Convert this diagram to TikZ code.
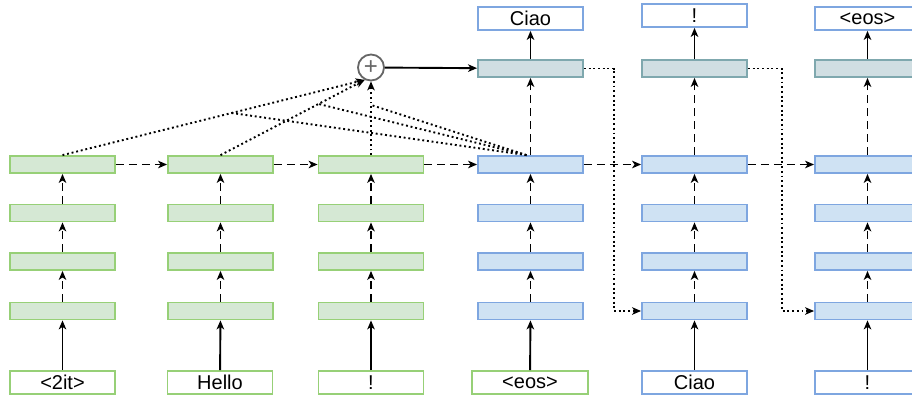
\documentclass[tikz,border=0pt]{standalone}
\usepackage{fontspec}
\setmainfont{Liberation Sans}
\usetikzlibrary{arrows.meta,calc}
\definecolor{gfill}{HTML}{D5E8D4}
\definecolor{gline}{HTML}{97D077}
\definecolor{bfill}{HTML}{CFE2F3}
\definecolor{bline}{HTML}{7EA6E0}
\definecolor{tfill}{HTML}{D0DEE2}
\definecolor{tline}{HTML}{7FA8AE}
\definecolor{pgray}{HTML}{666666}
\begin{document}
\begin{tikzpicture}[x=1pt,y=-1pt,
  box/.style={draw, line width=1.8pt, minimum width=105pt, minimum height=17pt, inner sep=0pt},
  genc/.style={box, fill=gfill, draw=gline},
  bdec/.style={box, fill=bfill, draw=bline},
  tdec/.style={box, fill=tfill, draw=tline},
  tok/.style={draw, line width=1.8pt, fill=white, minimum width=105pt, minimum height=23pt, inner sep=0pt, font=\fontsize{20}{24}\selectfont},
  gtok/.style={tok, draw=gline},
  btok/.style={tok, draw=bline},
  tip/.tip={Stealth[length=9pt,width=7.5pt,inset=2.5pt]},
  arr/.style={line width=1.9pt, -tip},
  dsh/.style={arr, dash pattern=on 8pt off 5pt},
  dotl/.style={line width=1.9pt, dash pattern=on 1.9pt off 2.8pt},
  dota/.style={dotl, -tip},
]
\clip (0,0) rectangle (912,396);
\fill[white] (0,0) rectangle (912,396);

% encoder columns
\foreach \n/\x in {1/62.5, 2/220.5, 3/371} {
  \node[genc] (e\n1) at (\x,164.5) {};
  \node[genc] (e\n2) at (\x,213) {};
  \node[genc] (e\n3) at (\x,261.5) {};
  \node[genc] (e\n4) at (\x,311) {};
}
% decoder columns
\foreach \n/\x in {4/530.5, 5/694.5, 6/867.5} {
  \node[bdec] (e\n1) at (\x,164.5) {};
  \node[bdec] (e\n2) at (\x,213) {};
  \node[bdec] (e\n3) at (\x,261.5) {};
  \node[bdec] (e\n4) at (\x,311) {};
  \node[tdec] (t\n) at (\x,68.5) {};
}

% input tokens
\node[gtok] (i1) at (62.5,382.5) {<2it>};
\node[gtok] (i2) at (220,382.5) {Hello};
\node[gtok] (i3) at (371,382.5) {!};
\node[gtok, minimum width=116pt] (i4) at (530,382.5) {<eos>};
\node[btok] (i5) at (694.5,382.5) {Ciao};
\node[btok] (i6) at (867.5,382.5) {!};

% output tokens
\node[btok] (o4) at (530.5,18.5) {Ciao};
\node[btok] (o5) at (694.5,15.5) {!};
\node[btok] (o6) at (867.5,18.5) {<eos>};

% sum node
\node[circle, draw=pgray, line width=1.8pt, fill=white, minimum size=26pt, inner sep=0pt,
      text=pgray, font=\fontsize{24}{24}\selectfont] (plus) at (371,67.5) {+};

% vertical connections
\foreach \n in {1,...,6} {
  \draw[arr] (i\n) -- (e\n4);
  \draw[dsh] (e\n4) -- (e\n3);
  \draw[dsh] (e\n3) -- (e\n2);
  \draw[dsh] (e\n2) -- (e\n1);
}
\foreach \n in {4,5,6} {
  \draw[dsh] (e\n1) -- (t\n);
  \draw[arr] (t\n) -- (o\n);
}

% horizontal recurrent connections
\draw[dsh] (e11) -- (e21);
\draw[dsh] (e21) -- (e31);
\draw[dsh] (e31) -- (e41);
\draw[dsh] (e41) -- (e51);
\draw[dsh] (e51) -- (e61);

% attention
\coordinate (pin) at (plus.-117);
\draw[dota] (e11.north) -- (pin);
\draw[dota] (e21.north) -- (pin);
\draw[dota] (e31.north) -- (plus.south);
\coordinate (a1) at ($(e11.north)!0.56!(pin)$);
\coordinate (a2) at ($(e21.north)!0.68!(pin)$);
\coordinate (a3) at ($(e31.north)!0.68!(plus.south)$);
\coordinate (q) at ($(e41.north)+(-4,0)$);
\draw[dotl] (q) -- (a1);
\draw[dotl] (q) -- (a2);
\draw[dotl] (q) -- (a3);
\draw[arr] (plus) -- (t4);

% feeding outputs back
\draw[dota] (t4.east) -- ++(30,0) |- (e54.west);
\draw[dota] (t5.east) -- ++(34,0) |- (e64.west);
\end{tikzpicture}
\end{document}
